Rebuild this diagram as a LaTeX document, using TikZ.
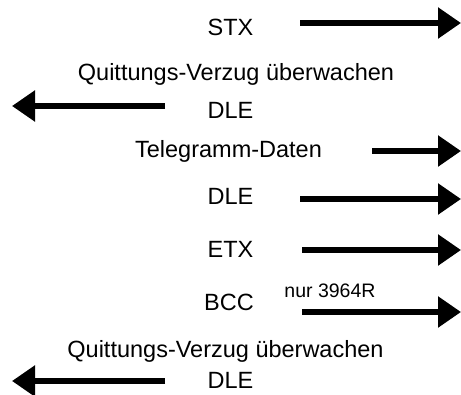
\documentclass[tikz,border=0pt]{standalone}
\usepackage{fontspec}
\setmainfont{Liberation Sans}
\usetikzlibrary{arrows.meta}
\begin{document}
\begin{tikzpicture}[x=1pt,y=-1pt,
  lbl/.style={anchor=base,inner sep=0pt,font=\fontsize{23.5}{28}\selectfont},
  small/.style={anchor=base,inner sep=0pt,font=\fontsize{19.5}{23}\selectfont},
  sig/.style={line width=5.5pt,-{Triangle[length=23pt,width=30pt]}}]
\useasboundingbox (0,0) rectangle (461,394);
% labels
\node[lbl] (stx) at (230.5,35) {STX};
\node[lbl] (q1) at (236,80.5) {Quittungs-Verzug überwachen};
\node[lbl] (dle1) at (230.5,118) {DLE};
\node[lbl] (tel) at (228.5,157) {Telegramm-Daten};
\node[lbl] (dle2) at (230.5,204) {DLE};
\node[lbl] (etx) at (230.5,257) {ETX};
\node[lbl] (bcc) at (229,310) {BCC};
\node[small] (nur) at (330,297) {nur 3964R};
\node[lbl] (q2) at (225.5,357) {Quittungs-Verzug überwachen};
\node[lbl] (dle3) at (230.5,388.5) {DLE};
% arrow end points
\coordinate (a1s) at (300,23);   \coordinate (a1e) at (461,23);
\coordinate (a2s) at (165,106);  \coordinate (a2e) at (12,106);
\coordinate (a3s) at (372,151);  \coordinate (a3e) at (461,151);
\coordinate (a4s) at (300,199);  \coordinate (a4e) at (461,199);
\coordinate (a5s) at (302,250);  \coordinate (a5e) at (461,250);
\coordinate (a6s) at (302,312);  \coordinate (a6e) at (461,312);
\coordinate (a7s) at (165,381);  \coordinate (a7e) at (12,381);
\draw[sig] (a1s) -- (a1e);
\draw[sig] (a2s) -- (a2e);
\draw[sig] (a3s) -- (a3e);
\draw[sig] (a4s) -- (a4e);
\draw[sig] (a5s) -- (a5e);
\draw[sig] (a6s) -- (a6e);
\draw[sig] (a7s) -- (a7e);
\end{tikzpicture}
\end{document}
